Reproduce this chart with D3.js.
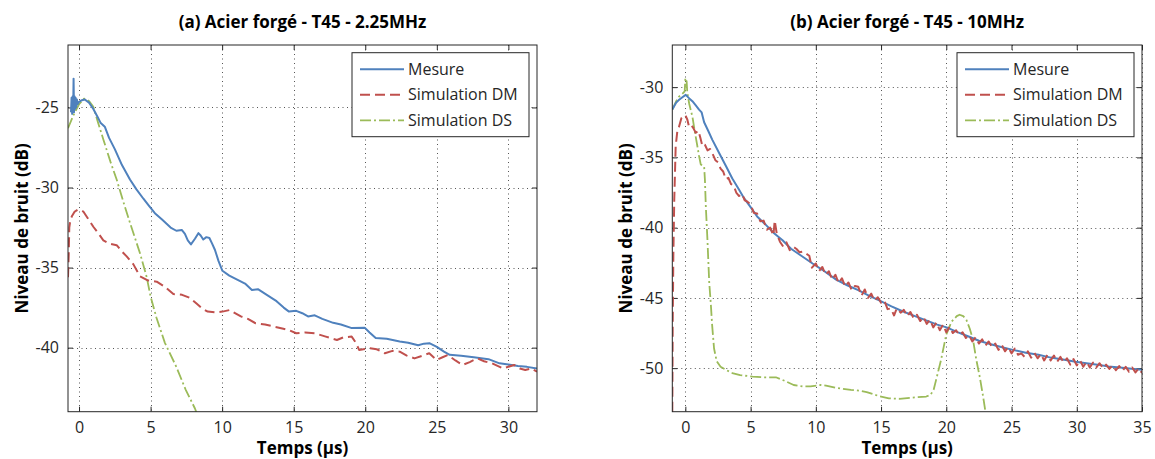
<!DOCTYPE html>
<html>
<head>
<meta charset="utf-8">
<script src="https://cdn.jsdelivr.net/npm/d3@7"></script>
<style>
  html, body { margin: 0; padding: 0; background: #ffffff; }
  svg { display: block; font-family: "Open Sans", "Noto Sans", sans-serif; }
</style>
</head>
<body>
<svg id="chart" width="1155" height="459"></svg>
<script>
// ---------------- DATA ----------------
const titleA = "(a) Acier forgé - T45 - 2.25MHz";
const titleB = "(b) Acier forgé - T45 - 10MHz";
const xLabel = "Temps (µs)";
const yLabel = "Niveau de bruit (dB)";
const legendLabels = ["Mesure", "Simulation DM", "Simulation DS"];

const xTicksA = [0, 5, 10, 15, 20, 25, 30];
const yTicksA = [-40, -35, -30, -25];
const xTicksB = [0, 5, 10, 15, 20, 25, 30, 35];
const yTicksB = [-50, -45, -40, -35, -30];

const xDomainA = [-0.77, 32];
const yDomainA = [-44, -21.1];
const xDomainB = [-1, 35];
const yDomainB = [-53.1, -27];

// Panel (a): [time µs, level dB]
const mesureA = [[-0.56,-25.3],[-0.52,-24.4],[-0.48,-25.4],[-0.44,-24.3],[-0.41,-25.2],[-0.38,-23.2],[-0.35,-25.3],[-0.32,-24.3],[-0.28,-25.1],[-0.24,-24.4],[-0.2,-25.0],[-0.15,-24.5],[-0.1,-24.8],[0,-24.65],[0.2,-24.55],[0.4,-24.5],[0.7,-24.7],[1.0,-25.1],[1.3,-25.6],[1.5,-25.95],[1.8,-26.2],[2.1,-26.9],[2.5,-27.6],[3.0,-28.6],[3.56,-29.5],[4.0,-30.1],[4.5,-30.7],[4.85,-31.1],[5.3,-31.6],[5.8,-32.0],[6.4,-32.5],[6.8,-32.7],[7.18,-32.65],[7.4,-32.9],[7.6,-33.3],[7.82,-33.55],[8.1,-33.2],[8.34,-32.85],[8.5,-33.0],[8.68,-33.25],[8.9,-33.1],[9.11,-33.15],[9.3,-33.5],[9.5,-33.9],[9.75,-34.6],[10.02,-35.2],[10.5,-35.5],[11.05,-35.75],[11.6,-36.0],[12.08,-36.4],[12.5,-36.35],[13.12,-36.7],[13.8,-37.1],[14.3,-37.5],[14.67,-37.75],[15.18,-37.7],[15.6,-37.85],[16.0,-38.05],[16.47,-37.98],[17.0,-38.2],[17.76,-38.45],[18.3,-38.55],[19.06,-38.78],[19.96,-38.75],[20.3,-39.05],[20.73,-39.4],[21.5,-39.45],[22.41,-39.62],[23.0,-39.7],[23.7,-39.85],[24.1,-39.75],[24.48,-39.72],[25.0,-39.95],[25.5,-40.25],[25.9,-40.45],[26.7,-40.5],[27.58,-40.6],[28.61,-40.72],[29.38,-40.98],[30.0,-41.05],[30.67,-41.15],[31.3,-41.2],[32.0,-41.3]];

const dmA = [[-0.77,-35.6],[-0.72,-34.2],[-0.68,-32.5],[-0.6,-32.0],[-0.5,-31.8],[-0.3,-31.5],[-0.1,-31.4],[0.1,-31.4],[0.3,-31.5],[0.6,-31.9],[1.0,-32.45],[1.3,-32.8],[1.7,-33.3],[2.1,-33.5],[2.63,-33.6],[3.0,-34.0],[3.33,-34.3],[3.8,-34.8],[4.26,-35.55],[4.8,-35.8],[5.43,-35.88],[6.0,-36.2],[6.59,-36.65],[7.2,-36.7],[7.76,-36.9],[8.21,-37.25],[8.6,-37.55],[8.99,-37.75],[9.5,-37.8],[10.02,-37.75],[10.53,-37.65],[11.31,-38.05],[11.8,-38.2],[12.34,-38.48],[13.0,-38.55],[13.63,-38.69],[14.2,-38.8],[14.66,-38.9],[15.18,-39.1],[15.8,-39.05],[16.47,-39.1],[17.24,-39.31],[18.02,-39.52],[18.5,-39.35],[19.05,-39.31],[19.35,-39.7],[19.57,-40.14],[20.34,-40.04],[20.8,-40.1],[21.37,-40.35],[21.9,-40.2],[22.41,-40.25],[22.9,-40.5],[23.44,-40.67],[24.0,-40.5],[24.47,-40.35],[24.99,-40.77],[25.4,-40.6],[25.76,-40.46],[26.3,-40.8],[26.8,-41.08],[27.3,-40.9],[27.83,-40.67],[28.3,-40.85],[28.86,-40.98],[29.63,-41.3],[30.4,-41.08],[30.8,-41.3],[31.18,-41.4],[31.6,-41.3],[32.0,-41.5]];

const dsA = [[-0.77,-26.3],[-0.4,-25.5],[0,-24.8],[0.35,-24.45],[0.7,-24.6],[1.0,-24.96],[1.35,-26.0],[1.7,-27.0],[2.2,-28.4],[2.63,-29.5],[3.1,-30.9],[3.56,-32.2],[4.26,-34.1],[4.73,-35.6],[5.0,-36.8],[5.4,-38.1],[6.0,-39.7],[6.8,-41.2],[7.44,-42.6],[8.1,-43.8],[8.4,-44.5]];

// Panel (b)
const mesureB = [[-1.0,-31.6],[-0.7,-31.1],[-0.48,-30.9],[-0.2,-30.7],[0.03,-30.55],[0.3,-30.8],[0.54,-31.0],[0.8,-31.3],[1.05,-31.6],[1.25,-31.8],[1.44,-32.5],[1.75,-33.1],[2.07,-33.75],[2.6,-34.7],[3.1,-35.6],[3.6,-36.5],[4.12,-37.3],[4.5,-37.9],[4.89,-38.4],[5.5,-39.2],[6.17,-39.8],[6.8,-40.4],[7.45,-40.9],[8.1,-41.5],[8.8,-41.95],[9.75,-42.55],[10.5,-43.0],[11.56,-43.7],[12.4,-44.1],[13.25,-44.45],[14.1,-44.85],[14.9,-45.2],[15.8,-45.6],[16.64,-45.95],[17.6,-46.3],[18.61,-46.65],[19.3,-46.9],[20.02,-47.1],[20.9,-47.45],[21.71,-47.75],[22.5,-48.05],[23.41,-48.3],[24.2,-48.5],[25.1,-48.7],[26.1,-48.9],[27.07,-49.05],[28.0,-49.25],[29.05,-49.4],[29.9,-49.55],[30.74,-49.65],[31.6,-49.75],[32.43,-49.88],[33.3,-49.95],[34.2,-50.05],[35.0,-50.12]];

const dmB = [[-1.0,-53.1],[-0.97,-47.0],[-0.92,-42.0],[-0.85,-38.0],[-0.74,-34.2],[-0.6,-33.0],[-0.48,-32.8],[-0.3,-32.2],[-0.15,-32.05],[0,-32.0],[0.15,-32.3],[0.28,-32.8],[0.45,-32.7],[0.6,-32.9],[0.8,-33.25],[1.0,-33.1],[1.15,-33.6],[1.31,-34.2],[1.5,-34.1],[1.7,-34.5],[1.9,-34.4],[2.07,-34.7],[2.3,-35.2],[2.5,-35.35],[2.7,-35.8],[2.9,-36.0],[3.1,-36.55],[3.3,-36.45],[3.5,-36.9],[3.7,-37.0],[3.9,-37.5],[4.12,-37.75],[4.35,-37.6],[4.55,-38.05],[4.76,-38.15],[5.0,-38.35],[5.25,-38.95],[5.5,-39.0],[5.75,-39.55],[6.0,-39.5],[6.25,-40.15],[6.5,-40.0],[6.75,-40.55],[6.85,-39.5],[7.0,-40.4],[7.25,-41.0],[7.5,-41.35],[7.75,-41.05],[8.0,-41.6],[8.25,-41.35],[8.5,-41.5],[8.75,-41.75],[9.0,-41.7],[9.25,-41.85],[9.5,-42.0],[9.7,-42.85],[10.0,-42.55],[10.25,-43.1],[10.5,-42.8],[10.75,-43.35],[11.0,-43.1],[11.25,-43.7],[11.5,-43.35],[11.75,-43.95],[12.0,-43.6],[12.25,-44.2],[12.5,-43.9],[12.75,-44.45],[13.0,-44.15],[13.25,-44.2],[13.5,-44.85],[13.75,-44.4],[14.0,-45.0],[14.25,-44.7],[14.5,-45.2],[14.75,-44.95],[15.0,-45.35],[15.25,-45.2],[15.5,-45.8],[15.75,-45.75],[16.0,-46.25],[16.2,-45.75],[16.5,-46.05],[16.75,-45.85],[17.0,-46.3],[17.25,-46.0],[17.5,-46.45],[17.75,-46.2],[18.0,-46.65],[18.25,-46.35],[18.5,-46.85],[18.75,-46.55],[19.0,-47.1],[19.25,-46.75],[19.5,-47.3],[19.75,-46.9],[20.0,-47.45],[20.25,-47.05],[20.5,-47.5],[20.75,-47.3],[21.0,-47.65],[21.25,-47.45],[21.5,-47.85],[21.75,-47.65],[22.0,-48.1],[22.25,-47.8],[22.5,-48.25],[22.75,-47.95],[23.0,-48.4],[23.25,-48.1],[23.5,-48.5],[23.75,-48.25],[24.0,-48.7],[24.25,-48.35],[24.5,-48.8],[24.75,-48.5],[25.0,-48.95],[25.25,-48.6],[25.5,-49.05],[25.75,-48.95],[26.0,-49.2],[26.25,-48.8],[26.5,-49.25],[26.75,-48.9],[27.0,-49.3],[27.25,-49.0],[27.5,-49.45],[27.75,-49.05],[28.0,-49.45],[28.25,-49.1],[28.5,-49.55],[28.75,-49.2],[29.0,-49.6],[29.25,-49.3],[29.5,-49.75],[29.75,-49.35],[30.0,-49.8],[30.25,-49.45],[30.5,-49.9],[30.75,-49.55],[31.0,-49.95],[31.25,-49.6],[31.5,-49.95],[31.75,-49.65],[32.0,-50.0],[32.25,-49.75],[32.5,-50.05],[32.75,-49.8],[33.0,-50.15],[33.25,-49.85],[33.5,-50.2],[33.75,-49.9],[34.0,-50.25],[34.25,-49.95],[34.5,-50.3],[34.75,-50.0],[35.0,-50.35]];

const dsB = [[-1.0,-31.6],[-0.7,-31.0],[-0.48,-30.67],[-0.2,-30.45],[-0.05,-30.3],[0,-29.36],[0.1,-29.6],[0.15,-30.4],[0.3,-31.2],[0.54,-32.1],[0.75,-33.3],[0.92,-34.2],[1.05,-34.9],[1.18,-35.5],[1.44,-35.65],[1.5,-36.6],[1.57,-38.5],[1.69,-40.8],[1.83,-43.9],[1.95,-45.4],[2.05,-46.9],[2.2,-48.6],[2.4,-49.5],[2.7,-49.9],[3.1,-50.12],[3.6,-50.35],[4.2,-50.5],[5.15,-50.6],[6.0,-50.65],[6.94,-50.65],[7.6,-50.9],[8.3,-51.2],[8.99,-51.3],[9.6,-51.3],[10.4,-51.2],[10.78,-51.24],[11.56,-51.4],[12.69,-51.55],[13.34,-51.6],[13.9,-51.7],[14.88,-52.0],[15.6,-52.15],[16.41,-52.18],[17.3,-52.1],[18.46,-52.02],[18.8,-51.9],[19.04,-51.5],[19.23,-50.8],[19.6,-49.4],[20.0,-47.6],[20.4,-46.7],[20.8,-46.3],[21.02,-46.2],[21.3,-46.3],[21.54,-46.56],[21.8,-47.2],[22.05,-47.98],[22.3,-49.4],[22.56,-50.6],[22.8,-51.9],[22.98,-52.97],[23.2,-54.2]];

// ---------------- STYLE ----------------
const colors = ["#4F81BD", "#C0504D", "#9BBB59"];
const dashes = [null, "10,5", "11,3,2,3"];
const widths = [2, 2, 1.8];

const svg = d3.select("#chart");
const plotTop = 45, plotBottom = 411.7;

function panel(id, x0, x1, xDomain, yDomain, xTicks, yTicks, title, series, legendX) {
  const x = d3.scaleLinear().domain(xDomain).range([x0, x1]);
  const y = d3.scaleLinear().domain(yDomain).range([plotBottom, plotTop]);
  const g = svg.append("g");

  g.append("clipPath").attr("id", "clip" + id)
    .append("rect").attr("x", x0).attr("y", plotTop).attr("width", x1 - x0).attr("height", plotBottom - plotTop);

  // grid
  const grid = g.append("g").attr("stroke", "#555").attr("stroke-width", 1).attr("stroke-dasharray", "1,3.5");
  grid.selectAll(".gx").data(xTicks).join("line")
    .attr("x1", d => Math.round(x(d)) + 0.5).attr("x2", d => Math.round(x(d)) + 0.5)
    .attr("y1", plotTop).attr("y2", plotBottom);
  grid.selectAll(".gy").data(yTicks).join("line")
    .attr("y1", d => Math.round(y(d)) + 0.5).attr("y2", d => Math.round(y(d)) + 0.5)
    .attr("x1", x0).attr("x2", x1);

  // axes with inner ticks on all sides
  const fmt = d => d3.format("d")(d).replace("\u2212", "-");
  const axB = d3.axisBottom(x).tickValues(xTicks).tickSizeInner(-5).tickSizeOuter(0).tickPadding(10).tickFormat(fmt);
  const axT = d3.axisTop(x).tickValues(xTicks).tickSizeInner(-5).tickSizeOuter(0).tickFormat("");
  const axL = d3.axisLeft(y).tickValues(yTicks).tickSizeInner(-5).tickSizeOuter(0).tickPadding(9).tickFormat(fmt);
  const axR = d3.axisRight(y).tickValues(yTicks).tickSizeInner(-5).tickSizeOuter(0).tickFormat("");

  const styleAxis = sel => {
    sel.select(".domain").remove();
    sel.selectAll(".tick line").attr("stroke", "#262626");
    sel.selectAll("text").attr("fill", "#262626").style("font-size", "16px").style("font-family", "'Open Sans', sans-serif");
  };
  g.append("g").attr("transform", `translate(0,${plotBottom})`).call(axB).call(styleAxis);
  g.append("g").attr("transform", `translate(0,${plotTop})`).call(axT).call(styleAxis);
  g.append("g").attr("transform", `translate(${x0},0)`).call(axL).call(styleAxis);
  g.append("g").attr("transform", `translate(${x1},0)`).call(axR).call(styleAxis);

  // series
  const line = d3.line().x(d => x(d[0])).y(d => y(d[1]));
  const lines = g.append("g").attr("clip-path", `url(#clip${id})`);
  const order = [2, 0, 1];
  order.forEach(i => {
    lines.append("path").datum(series[i])
      .attr("fill", "none").attr("stroke", colors[i]).attr("stroke-width", widths[i])
      .attr("stroke-dasharray", dashes[i]).attr("stroke-linejoin", "round")
      .attr("d", line);
  });

  // box
  g.append("rect").attr("x", x0).attr("y", plotTop).attr("width", x1 - x0).attr("height", plotBottom - plotTop)
    .attr("fill", "none").attr("stroke", "#262626").attr("stroke-width", 1);

  // title
  g.append("text").attr("x", (x0 + x1) / 2).attr("y", 28).attr("text-anchor", "middle")
    .style("font-size", "17px").style("font-weight", "bold").attr("fill", "#000").text(title);
  // x label
  g.append("text").attr("x", (x0 + x1) / 2).attr("y", 454).attr("text-anchor", "middle")
    .style("font-size", "17px").style("font-weight", "bold").attr("fill", "#000").text(xLabel);
  // y label
  g.append("text").attr("transform", `translate(${x0 - 40},${(plotTop + plotBottom) / 2}) rotate(-90)`)
    .attr("text-anchor", "middle")
    .style("font-size", "17px").style("font-weight", "bold").attr("fill", "#000").text(yLabel);

  // legend
  const lw = 177, lh = 84, ly = 52.7;
  const lg = g.append("g").attr("transform", `translate(${legendX},${ly})`);
  lg.append("rect").attr("x", 0).attr("y", 0).attr("width", lw).attr("height", lh)
    .attr("fill", "#fff").attr("stroke", "#262626").attr("stroke-width", 1);
  legendLabels.forEach((lab, i) => {
    const yy = 16.6 + i * 25.5;
    lg.append("line").attr("x1", 8).attr("x2", 52).attr("y1", yy).attr("y2", yy)
      .attr("stroke", colors[i]).attr("stroke-width", widths[i]).attr("stroke-dasharray", dashes[i]);
    lg.append("text").attr("x", 56).attr("y", yy + 5.5)
      .style("font-size", "16px").attr("fill", "#262626").text(lab);
  });
}

panel("A", 68, 537, xDomainA, yDomainA, xTicksA, yTicksA, titleA, [mesureA, dmA, dsA], 352);
panel("B", 672.3, 1142, xDomainB, yDomainB, xTicksB, yTicksB, titleB, [mesureB, dmB, dsB], 957);
</script>
</body>
</html>
